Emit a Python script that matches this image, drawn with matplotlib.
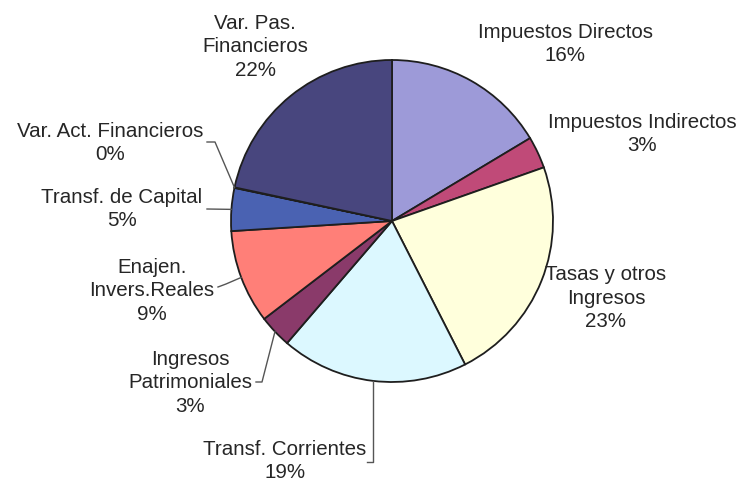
# gráfico de tarta: estructura de ingresos por capítulos
import numpy as np
import matplotlib.pyplot as plt

categorias = [
    "Impuestos Directos",
    "Impuestos Indirectos",
    "Tasas y otros\nIngresos",
    "Transf. Corrientes",
    "Ingresos\nPatrimoniales",
    "Enajen.\nInvers.Reales",
    "Transf. de Capital",
    "Var. Act. Financieros",
    "Var. Pas.\nFinancieros",
]
valores = [16.4, 3.2, 22.9, 18.8, 3.3, 9.4, 4.3, 0.05, 21.65]
porcentajes = ["16%", "3%", "23%", "19%", "3%", "9%", "5%", "0%", "22%"]
colores = ["#9d9ad8", "#c04a78", "#ffffdc", "#dcf8ff", "#8a3a6a",
           "#ff7f78", "#4a62b2", "#c8c8f0", "#48467e"]

W, H = 741, 484
fig = plt.figure(figsize=(W / 100, H / 100), dpi=100)
ax = fig.add_axes([0, 0, 1, 1])

cx, cy, r = 392, H - 221, 161
wedges, _ = ax.pie(
    valores, colors=colores, startangle=90, counterclock=False,
    center=(cx, cy), radius=r, frame=True,
    wedgeprops=dict(edgecolor="#1e1e1e", linewidth=1.3),
)
ax.set_xlim(0, W)
ax.set_ylim(0, H)
ax.axis("off")

# posición de las etiquetas (centro del bloque de texto, en píxeles desde arriba)
pos_texto = [(565, 44), (642, 134), (606, 298), (285, 461), (190, 383),
             (152, 291), (122, 209), (110, 143), (255, 47)]

for cat, pct, (tx, ty) in zip(categorias, porcentajes, pos_texto):
    ax.text(tx, H - ty, f"{cat}\n{pct}", ha="center", va="center",
            fontsize=14.8, family="Liberation Sans", color="#262626",
            linespacing=1.28)


def borde(i):
    w = wedges[i]
    ang = np.deg2rad((w.theta1 + w.theta2) / 2)
    return cx + r * np.cos(ang), cy + r * np.sin(ang)


# líneas guía: índice de la porción y puntos del codo (px desde arriba)
guias = {
    3: [(None, 462), (-6, 462)],
    4: [(262, 382), (256, 382)],
    5: [(226, 284), (218, 287)],
    6: [(207, 209)],
    7: [(215, 142), (207, 142)],
}
for i, codos in guias.items():
    bx, by = borde(i)
    xs, ys = [bx], [by]
    for px, py in codos:
        if px is None:
            px = bx
        elif px < 0:
            px = xs[-1] + px
        xs.append(px)
        ys.append(H - py)
    ax.plot(xs, ys, color="#555555", linewidth=1.0)

fig.savefig("out.png", dpi=100)
